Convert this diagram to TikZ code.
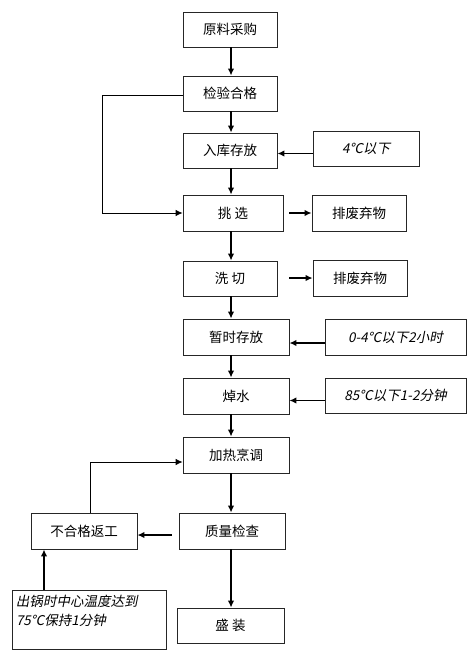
\documentclass[tikz,border=0pt]{standalone}
\usepackage{fontspec}
\usetikzlibrary{arrows.meta}
\newfontfamily\cjk{Noto Sans CJK SC}
\newfontfamily\cjkit[FakeSlant=0.2]{Noto Sans CJK SC}

\begin{document}
\begin{tikzpicture}[x=1pt,y=-1pt,
    box/.style={draw=black!85, line width=0.8pt, minimum width=94pt, minimum height=35pt, inner sep=2pt, font=\cjk\fontsize{13.5}{15}\selectfont},
    condbox/.style={box, font=\cjkit\fontsize{13.5}{19}\selectfont},
    arr/.style={line width=1.4pt, -{Latex[length=7pt,width=6.5pt]}}]
    \useasboundingbox (0,0) rectangle (474,671);
    \fill[white] (0,0) rectangle (474,671);

    % 主流程
    \node[box] (yuanliao) at (230,29.5) {原料采购};
    \node[box] (jianyan) at (230,93.5) {检验合格};
    \node[box] (ruku) at (230,150.5) {入库存放};
    \node[box, minimum width=100pt, minimum height=36pt] (tiaoxuan) at (233,213) {挑 选};
    \node[box] (xiqie) at (230,278.5) {洗 切};
    \node[box, minimum width=106pt, minimum height=36pt] (zanshi) at (236,337) {暂时存放};
    \node[box, minimum width=106pt, minimum height=36pt] (chaoshui) at (236,396) {焯水};
    \node[box, minimum width=106pt, minimum height=36pt] (jiare) at (236,455) {加热烹调};
    \node[box, minimum width=106pt, minimum height=36pt] (zhiliang) at (232,531) {质量检查};
    \node[box, minimum width=107pt] (shengzhuang) at (230.5,625.5) {盛 装};

    % 旁路
    \node[condbox, minimum width=106pt] (wendu) at (366,148.5) {4℃以下};
    \node[box, minimum height=36pt] (paifeiA) at (359,213) {排废弃物};
    \node[box, minimum height=36pt] (paifeiB) at (360,278) {排废弃物};
    \node[condbox, minimum width=141pt, minimum height=36pt] (lengcang) at (395.5,337) {0-4℃以下2小时};
    \node[condbox, minimum width=141pt] (tangshui) at (395.5,395.5) {85℃以下1-2分钟};
    \node[box, minimum width=106pt, minimum height=36pt] (fangong) at (84,531) {不合格返工};
    \node[condbox, minimum width=154pt, minimum height=59pt, text width=146pt, align=left] (chuguo) at (89,619.5) {出锅时中心温度达到\\75℃保持1分钟\\~};

    \coordinate (col) at (231,0);
    \coordinate (loopL) at (102,0);

    % 竖向箭头
    \draw[arr] (col |- yuanliao.south) -- (col |- jianyan.north);
    \draw[arr] (col |- jianyan.south) -- (col |- ruku.north);
    \draw[arr] (col |- ruku.south) -- (col |- tiaoxuan.north);
    \draw[arr] (col |- tiaoxuan.south) -- (col |- xiqie.north);
    \draw[arr] (col |- xiqie.south) -- (col |- zanshi.north);
    \draw[arr] (col |- zanshi.south) -- (col |- chaoshui.north);
    \draw[arr] (col |- chaoshui.south) -- (col |- jiare.north);
    \draw[arr] (col |- jiare.south) -- (col |- zhiliang.north);
    \draw[arr] (col |- zhiliang.south) -- (col |- shengzhuang.north);

    % 横向箭头
    \draw[arr] ([yshift=-5pt]wendu.west) -- ([yshift=-5pt]wendu.west -| ruku.east);
    \draw[arr, shorten <=6pt] (tiaoxuan.east) -- (paifeiA.west);
    \draw[arr, shorten <=12pt] (xiqie.east |- paifeiB.west) -- (paifeiB.west);
    \draw[arr] ([yshift=-6pt]lengcang.west) -- ([yshift=-6pt]lengcang.west -| zanshi.east);
    \draw[arr] ([yshift=-5pt]tangshui.west) -- ([yshift=-5pt]tangshui.west -| chaoshui.east);
    \draw[arr, shorten <=7pt] ([yshift=-4pt]zhiliang.west) -- ([yshift=-4pt]fangong.east);

    % 回路
    \draw[line width=0.8pt, -{Latex[length=7pt,width=6.5pt]}] ([yshift=-1.5pt]jianyan.west) -- ([yshift=-1.5pt]jianyan.west -| loopL) |- (tiaoxuan.west);
    \draw[line width=0.8pt, -{Latex[length=7pt,width=6.5pt]}] ([xshift=6pt]fangong.north) |- ([yshift=-7pt]jiare.west);
    \draw[arr] ([xshift=-40pt]fangong.south |- chuguo.north) -- ([xshift=-40pt]fangong.south);

\end{tikzpicture}
\end{document}
